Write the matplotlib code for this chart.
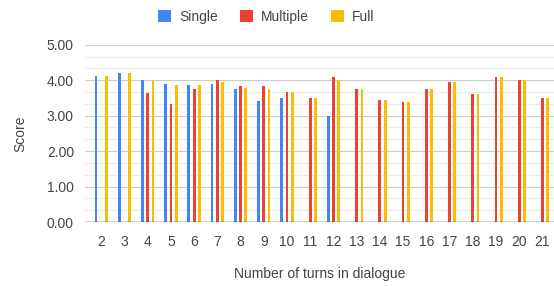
import numpy as np
import matplotlib
matplotlib.use("Agg")
from matplotlib import pyplot as plt
from matplotlib.patches import Patch

plt.rcParams['font.family'] = ['Liberation Sans', 'DejaVu Sans']

turns = [2, 3, 4, 5, 6, 7, 8, 9, 10, 11, 12, 13, 14, 15, 16, 17, 18, 19, 20, 21]
single = [4.13, 4.21, 4.00, 3.89, 3.86, 3.89, 3.76, 3.41, 3.49, np.nan, 2.99,
          np.nan, np.nan, np.nan, np.nan, np.nan, np.nan, np.nan, np.nan, np.nan]
multiple = [np.nan, np.nan, 3.65, 3.32, 3.74, 4.01, 3.83, 3.83, 3.67, 3.49, 4.10,
            3.76, 3.44, 3.37, 3.76, 3.94, 3.60, 4.10, 4.01, 3.49]
full = [4.13, 4.21, 4.00, 3.86, 3.86, 3.94, 3.79, 3.76, 3.67, 3.49, 4.00,
        3.76, 3.44, 3.37, 3.76, 3.94, 3.60, 4.10, 4.01, 3.49]

series = {"Single": single, "Multiple": multiple, "Full": full}
colors = {"Single": "#4285F4", "Multiple": "#EA4335", "Full": "#FBBC04"}

fig = plt.figure(figsize=(5.54, 2.86), dpi=100)
ax = fig.add_axes([85 / 554, (286 - 222) / 286, 1 - 85 / 554, (222 - 44.7) / 286])

x = np.array(turns, dtype=float)
offset = 0.228
width = 0.12
for k, (name, vals) in enumerate(series.items()):
    v = np.array(vals, dtype=float)
    ok = ~np.isnan(v)
    ax.bar(x[ok] + (k - 1) * offset, v[ok], width=width, color=colors[name], zorder=3)

ax.set_xlim(1.30, 21.5)
ax.set_ylim(0, 5)

# major and minor gridlines
ax.set_yticks(np.arange(0, 5.01, 1))
ax.set_yticks(np.arange(0, 5.01, 1 / 3), minor=True)
ax.set_yticklabels([f"{t:.2f}" for t in np.arange(0, 5.01, 1)])
ax.grid(axis="y", which="major", color="#cccccc", lw=0.8, zorder=0)
ax.grid(axis="y", which="minor", color="#ececec", lw=0.8, zorder=0)
ax.axhline(0, color="#333333", lw=1.0, zorder=4)

ax.set_xticks(turns)
ax.set_xticklabels([str(t) for t in turns])
ax.tick_params(axis="both", which="both", length=0, labelsize=10, labelcolor="#444444")
ax.tick_params(axis="x", pad=9)
ax.tick_params(axis="y", pad=8)
for s in ax.spines.values():
    s.set_visible(False)

ax.set_ylabel("Score", fontsize=10, color="#444444", labelpad=14)
ax.set_xlabel("Number of turns in dialogue", fontsize=10, color="#444444", labelpad=13)

handles = [Patch(facecolor=colors[n], label=n) for n in series]
fig.legend(handles=handles, loc="center", bbox_to_anchor=(266.5 / 554, 1 - 17 / 286),
           ncol=3, frameon=False, fontsize=10, handlelength=0.9, handleheight=0.9,
           handletextpad=0.6, columnspacing=1.6, labelcolor="#444444")

fig.savefig("out.png", dpi=100)
